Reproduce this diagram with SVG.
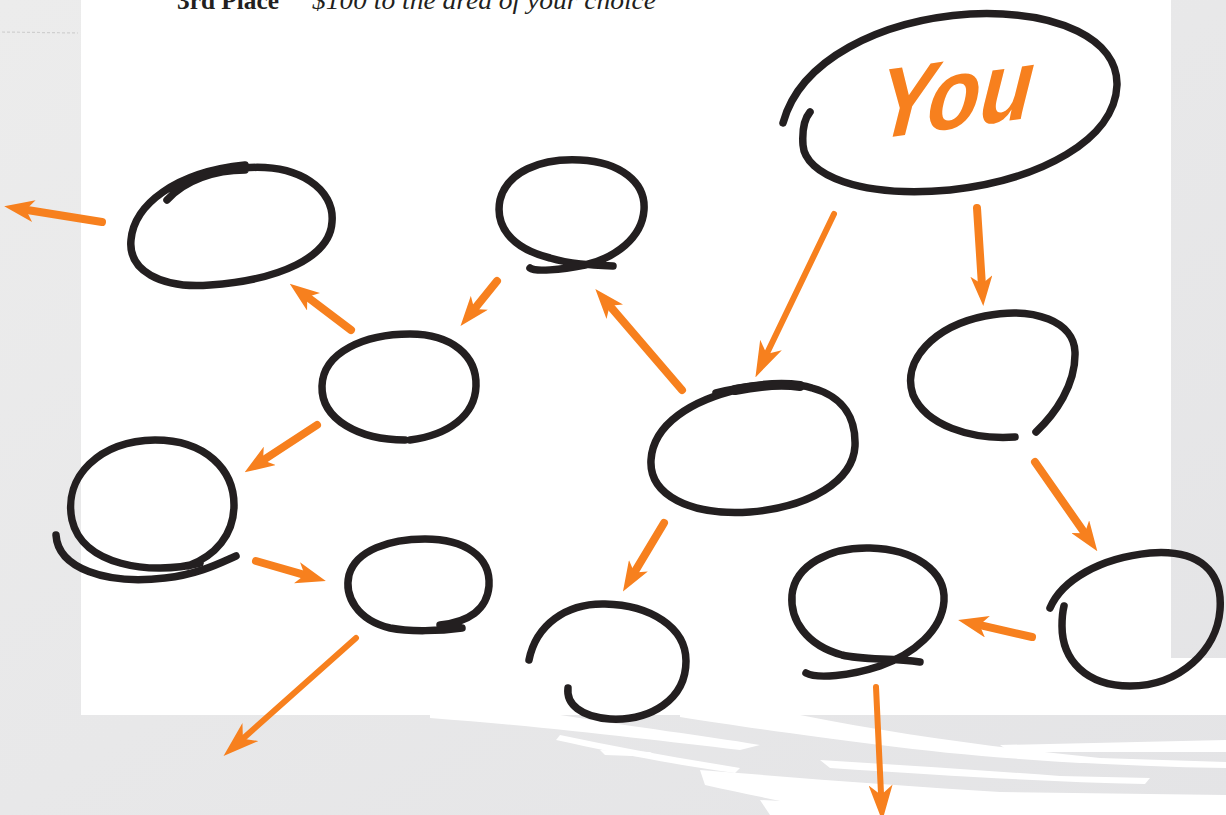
<svg xmlns="http://www.w3.org/2000/svg" width="1226" height="815" viewBox="0 0 1226 815">
  <defs>
    <marker id="head" markerUnits="userSpaceOnUse" markerWidth="30" markerHeight="22" refX="13" refY="11" orient="auto">
      <path d="M30,11 L0,0 L8,11 L0,22 Z" fill="#F7801E"/>
    </marker>
    <marker id="headL" markerUnits="userSpaceOnUse" markerWidth="36" markerHeight="24" refX="15" refY="12" orient="auto">
      <path d="M36,12 L0,0 L10,12 L0,24 Z" fill="#F7801E"/>
    </marker>
    <linearGradient id="bg" x1="0" y1="0" x2="1" y2="1">
      <stop offset="0" stop-color="#ECECEC"/>
      <stop offset="1" stop-color="#E4E4E6"/>
    </linearGradient>
  </defs>
  <style>
    .node { fill: none; stroke: #231F20; stroke-width: 7.5; stroke-linecap: round; stroke-linejoin: round; }
    .arrow { fill: none; stroke: #F7801E; stroke-width: 8; stroke-linecap: round; marker-end: url(#head); }
    .arrow.long { stroke-width: 6; marker-end: url(#headL); }
    .brush { fill: #FFFFFF; }
  </style>

  <!-- background -->
  <rect x="0" y="0" width="1226" height="815" fill="url(#bg)"/>
  <path d="M2,32 L78,33" stroke="#CFCFCF" stroke-width="1.2" stroke-dasharray="3 2" fill="none"/>
  <rect x="81" y="0" width="1090" height="715" fill="#FFFFFF"/>
  <rect x="1171" y="658" width="55" height="57" fill="#FFFFFF"/>
  <g id="brush-strokes">
    <path class="brush" d="M430,715 L560,715 C640,728 700,735 760,745 L740,750 C650,740 560,728 430,718 Z"/>
    <path class="brush" d="M560,735 C620,748 680,758 740,768 L735,773 C670,764 610,752 556,740 Z"/>
    <path class="brush" d="M600,750 L650,752 L660,757 L605,755 Z"/>
    <path class="brush" d="M680,715 L800,715 C900,735 1000,748 1100,758 L1226,762 L1226,768 C1100,766 980,758 880,745 C800,735 730,725 680,717 Z"/>
    <path class="brush" d="M700,770 C800,778 900,786 1000,792 L1226,795 L1226,815 L850,815 C800,805 750,795 705,785 Z"/>
    <path class="brush" d="M820,760 C900,765 980,770 1060,776 L1150,778 L1145,784 C1050,782 950,776 830,768 Z"/>
    <path class="brush" d="M760,800 L840,804 L860,815 L770,815 Z"/>
    <path class="brush" d="M1000,745 L1226,740 L1226,752 L1010,752 Z"/>
  </g>

  <!-- header text (cut off at the top edge, as in the reference) -->
  <text x="177" y="9" font-family="'Liberation Serif', serif" font-size="26" font-weight="bold" fill="#231F20" textLength="102" lengthAdjust="spacingAndGlyphs">3rd Place</text>
  <text x="312" y="9" font-family="'Liberation Serif', serif" font-size="26" font-style="italic" fill="#231F20" textLength="344" lengthAdjust="spacingAndGlyphs">$100 to the area of your choice</text>

  <!-- nodes -->
  <g id="node-you">
    <path class="node" d="M783,123 C800,60 880,20 970,14 C1060,10 1118,40 1117,85 C1115,140 1040,180 950,190 C860,198 805,175 803,145 C802,130 805,118 810,112"/>
    <text x="0" y="0" font-family="'Liberation Sans', sans-serif" font-size="98" font-weight="bold" fill="#F7801E" textLength="158" lengthAdjust="spacingAndGlyphs" transform="translate(870 140) rotate(-8) skewX(-22)">You</text>
  </g>
  <g id="node-a">
    <path class="node" d="M167,200 C185,180 215,170 245,170 M243,168 C300,163 335,190 332,222 C330,257 280,280 210,285 C160,289 128,270 131,240 C134,205 175,172 245,165"/>
  </g>
  <g id="node-b">
    <path class="node" d="M613,266 C590,265 570,264 550,258 C510,248 495,225 500,200 C507,172 540,158 580,160 C620,162 646,182 644,210 C642,238 615,258 585,265 C560,270 535,272 530,268"/>
  </g>
  <g id="node-c">
    <path class="node" d="M405,440 C360,440 321,420 322,386 C323,352 365,334 410,334 C452,334 477,356 476,386 C475,416 448,435 410,440"/>
  </g>
  <g id="node-d">
    <path class="node" d="M200,563 C150,576 82,565 72,520 C63,476 100,441 155,440 C206,440 234,470 234,505 C234,535 215,556 188,566"/>
    <path class="node" d="M56,535 C58,568 105,585 165,578 C200,574 222,562 236,556"/>
  </g>
  <g id="node-e">
    <path class="node" d="M462,628 C440,631 410,632 390,628 C357,620 344,596 349,575 C356,550 390,539 425,539 C464,539 491,556 489,586 C487,610 468,622 440,625"/>
  </g>
  <g id="node-f">
    <path class="node" d="M716,393 C755,383 795,382 812,388 C845,397 856,420 855,446 C853,481 810,507 750,512 C690,516 649,495 651,460 C653,424 692,400 740,389"/>
    <path class="node" d="M735,390 C760,385 785,384 800,386" style="stroke-width:10"/>
  </g>
  <g id="node-g">
    <path class="node" d="M1015,437 C970,440 926,425 913,395 C901,360 935,326 985,316 C1035,306 1074,322 1075,352 C1076,385 1055,414 1036,432"/>
  </g>
  <g id="node-h">
    <path class="node" d="M529,660 C536,625 566,603 605,604 C650,605 686,627 686,661 C686,700 650,721 610,719 C581,717 566,704 568,688"/>
  </g>
  <g id="node-i">
    <path class="node" d="M920,662 C890,658 862,660 842,655 C806,645 790,620 792,595 C795,565 830,547 870,548 C914,549 946,571 944,601 C942,630 914,654 880,666 C850,676 817,679 806,673"/>
  </g>
  <g id="node-j">
    <path class="node" d="M1050,608 C1062,580 1100,558 1150,553 C1200,549 1223,572 1220,610 C1217,650 1180,686 1130,686 C1086,686 1062,660 1062,626 C1062,616 1063,610 1064,606"/>
  </g>

  <!-- connectors -->
  <g id="connectors">
    <line class="arrow" x1="102" y1="222" x2="21" y2="209"/>
    <line class="arrow" x1="351" y1="330" x2="303.3" y2="293.9"/>
    <line class="arrow" x1="497" y1="281" x2="471.2" y2="312.9"/>
    <line class="arrow" x1="317" y1="425" x2="258.9" y2="463"/>
    <line class="arrow" x1="256" y1="561" x2="309.5" y2="576.4"/>
    <line class="arrow long" x1="356" y1="638" x2="239.2" y2="742"/>
    <line class="arrow" x1="682" y1="390" x2="606.4" y2="301.9"/>
    <line class="arrow long" x1="834" y1="214" x2="764.5" y2="358.5"/>
    <line class="arrow" x1="977" y1="208" x2="982.2" y2="289"/>
    <line class="arrow" x1="664" y1="523" x2="631.7" y2="576.9"/>
    <line class="arrow" x1="1035" y1="462" x2="1087.6" y2="537.3"/>
    <line class="arrow" x1="1032" y1="637" x2="974.7" y2="623.9"/>
    <line class="arrow long" x1="876" y1="687" x2="881.3" y2="800"/>
  </g>
</svg>
